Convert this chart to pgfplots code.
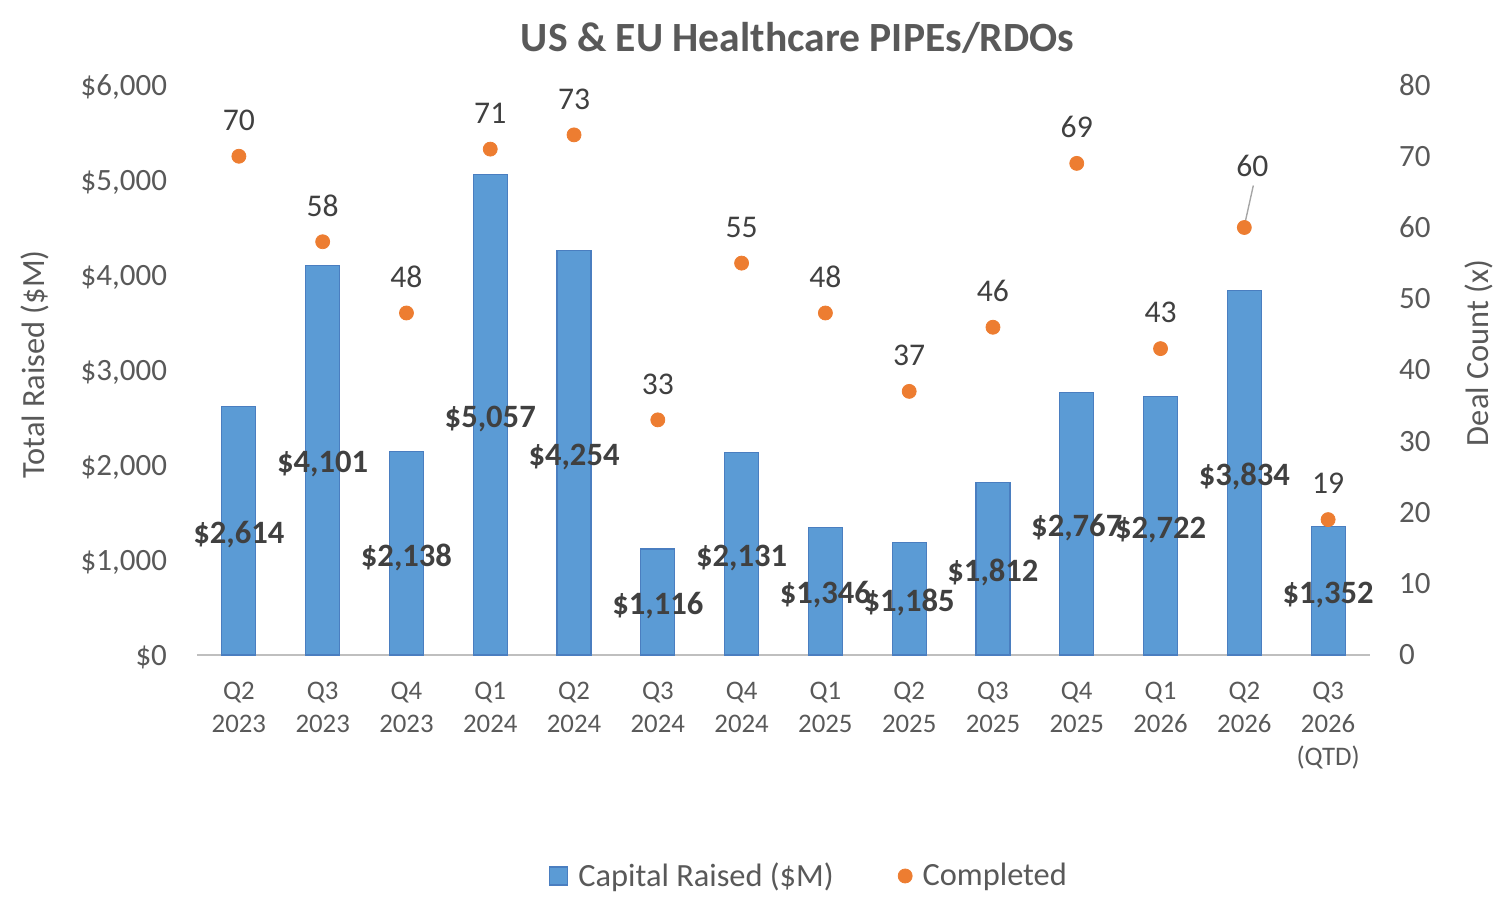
\documentclass[border=0pt]{standalone}
\usepackage{pgfplots}
\pgfplotsset{compat=1.18}
\usepackage{pgfplotstable}
\usepackage{fontspec}
\setmainfont{Carlito}
\definecolor{barblue}{HTML}{5B9BD5}
\definecolor{baredge}{HTML}{4A7EC0}
\definecolor{dotor}{HTML}{ED7D31}
\definecolor{txt}{HTML}{595959}
\definecolor{lbl}{HTML}{404040}
\definecolor{axgray}{HTML}{BFBFBF}

\pgfplotsset{/pgf/number format/assume math mode=true,
  sqlegend/.style={legend image code/.code={\draw[##1] (0pt,-4.5pt) rectangle (9pt,4.5pt);}},
  dotlegend/.style={legend image code/.code={\fill[dotor] (4.5pt,0pt) circle (3.5pt);}},
}

\pgfplotstableread{
x v
0 2614
1 4101
2 2138
3 5057
4 4254
5 1116
6 2131
7 1346
8 1185
9 1812
10 2767
11 2722
12 3834
13 1352
}\capital

\pgfplotstableread{
x n dx dy
0 70 0 18
1 58 0 18
2 48 0 18
3 71 0 18
4 73 0 18
5 33 0 18
6 55 0 18
7 48 0 18
8 37 0 18
9 46 0 18
10 69 0 18
11 43 0 18
12 60 4 31
13 19 0 18
}\deals

\newcommand{\tfont}{\fontsize{15.5}{17.5}\selectfont}
\newcommand{\xfont}{\fontsize{13.4}{16.5}\selectfont}
\newcommand{\lfont}{\fontsize{16.2}{19}\selectfont}

\begin{document}
\begin{tikzpicture}
\useasboundingbox (0,0) rectangle (755pt,455pt);
\begin{axis}[
  at={(98.5pt,127.5pt)}, anchor=south west,
  scale only axis, width=586.5pt, height=285pt,
  xmin=-0.5, xmax=13.5, ymin=0, ymax=6000,
  axis x line*=bottom, axis y line*=left,
  x axis line style={draw=axgray, line width=0.8pt},
  y axis line style={draw=none},
  major tick length=0pt,
  xtick={0,...,13},
  xticklabels={{Q2\\2023},{Q3\\2023},{Q4\\2023},{Q1\\2024},{Q2\\2024},{Q3\\2024},{Q4\\2024},{Q1\\2025},{Q2\\2025},{Q3\\2025},{Q4\\2025},{Q1\\2026},{Q2\\2026},{Q3\\2026\\(QTD)}},
  xticklabel style={align=center, font=\xfont, text=txt, anchor=north, yshift=-10pt},
  ytick={0,1000,...,6000},
  yticklabel={\$\pgfmathprintnumber{\tick}},
  /pgf/number format/.cd, 1000 sep={,}, /pgfplots/.cd,
  yticklabel style={font=\tfont, text=txt, xshift=-11.5pt, yshift=-1pt},
  ylabel={Total Raised (\$M)},
  ylabel style={at={(axis description cs:-0.138,0.51)}, anchor=center, rotate=0, font=\lfont, text=txt},
  title={\textbf{US \& EU Healthcare PIPEs/RDOs}},
  every axis title shift=0pt,
  title style={at={(axis description cs:0.512,1.0825)}, anchor=center, font=\fontsize{20.8}{24}\selectfont, text=txt},
  clip=false,
]
\addplot[ybar, bar width=17pt, fill=barblue, draw=baredge, line width=0.6pt,
  nodes near coords={\$\pgfmathprintnumber{\pgfplotspointmeta}},
  point meta=explicit,
  visualization depends on={\thisrow{v}/2 \as \halfv},
  every node near coord/.append style={anchor=center, font=\fontsize{16.3}{19}\selectfont\bfseries, text=lbl,
     shift={(axis direction cs:0,-\halfv)}, yshift=-2pt},
] table[x=x, y=v, meta=v] {\capital};
\end{axis}

\begin{axis}[
  at={(98.5pt,127.5pt)}, anchor=south west,
  scale only axis, width=586.5pt, height=285pt,
  xmin=-0.5, xmax=13.5, ymin=0, ymax=80,
  axis y line*=right, axis x line=none,
  y axis line style={draw=none},
  major tick length=0pt,
  ytick={0,10,...,80},
  yticklabel style={font=\tfont, text=txt, xshift=11pt},
  ylabel={Deal Count (x)},
  ylabel style={at={(axis description cs:1.093,0.53)}, anchor=center, rotate=0, font=\lfont, text=txt},
  clip=false,
  legend style={at={(axis description cs:0.5226,-0.3877)}, anchor=center, draw=none, fill=none,
    legend columns=2, font=\lfont, text=txt,
    /tikz/every odd column/.append style={column sep=3pt},
    /tikz/every even column/.append style={column sep=30pt}},
  legend cell align=left,
]
\addlegendimage{sqlegend, fill=barblue, draw=baredge, line width=0.6pt}
\addlegendentry{Capital Raised (\$M)}
\addplot[only marks, mark=*, mark size=3.5pt, color=dotor, dotlegend,
  nodes near coords={\pgfmathprintnumber{\pgfplotspointmeta}},
  point meta=explicit,
  visualization depends on={\thisrow{dx} \as \dx},
  visualization depends on={\thisrow{dy} \as \dy},
  every node near coord/.append style={anchor=center, font=\fontsize{15.8}{18}\selectfont, text=lbl, xshift=\dx pt, yshift=\dy pt},
] table[x=x, y=n, meta=n] {\deals};
\addlegendentry{Completed}
\draw[gray!70, line width=0.7pt] ([xshift=0.5pt,yshift=3pt]axis cs:12,60) -- ([xshift=4.5pt,yshift=21pt]axis cs:12,60);
\end{axis}
\end{tikzpicture}
\end{document}
